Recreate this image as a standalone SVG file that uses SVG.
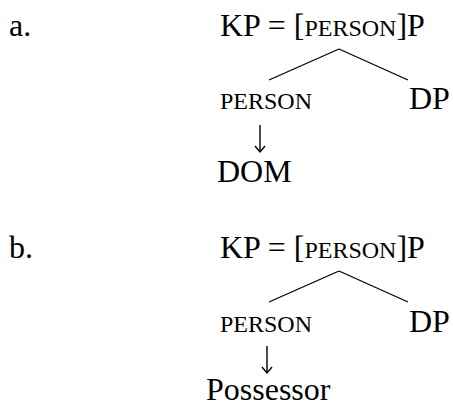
<svg xmlns="http://www.w3.org/2000/svg" width="453" height="407" viewBox="0 0 453 407" font-family="Liberation Serif">
<style>
text{font-size:32px;fill:#000}
.sc{font-size:24px}
.edge{stroke:#000;stroke-width:1.3;fill:none}
.arr{stroke:#000;stroke-width:1.4;fill:none}
</style>
<rect width="453" height="407" fill="#fff"/>
<g id="label-a"><text x="9" y="36" font-family="Liberation Serif">a.</text></g>
<g id="label-b"><text x="9" y="258" font-family="Liberation Serif">b.</text></g>
<g id="a-root"><text x="220" y="36" font-family="Liberation Serif">KP = [<tspan class="sc">PERSON</tspan>]P</text></g>
<g id="a-person"><text class="sc" x="220" y="109" font-family="Liberation Serif">PERSON</text></g>
<g id="a-dp"><text x="409" y="109" font-family="Liberation Serif">DP</text></g>
<g id="a-dom"><text x="217" y="182" font-family="Liberation Serif">DOM</text></g>
<g id="b-root"><text x="220" y="258" font-family="Liberation Serif">KP = [<tspan class="sc">PERSON</tspan>]P</text></g>
<g id="b-person"><text class="sc" x="220" y="332" font-family="Liberation Serif">PERSON</text></g>
<g id="b-dp"><text x="409" y="332" font-family="Liberation Serif">DP</text></g>
<g id="b-possessor"><text x="206" y="400" font-family="Liberation Serif">Possessor</text></g>
<g id="connectors">
<line class="edge" x1="339" y1="49" x2="269" y2="80"/>
<line class="edge" x1="339" y1="49" x2="408" y2="80"/>
<line class="edge" x1="339" y1="271" x2="269" y2="302"/>
<line class="edge" x1="339" y1="271" x2="408" y2="302"/>
<line class="arr" x1="260" y1="125" x2="260" y2="152"/>
<polyline class="arr" points="255,146 260,152 265,146"/>
<line class="arr" x1="267" y1="346" x2="267" y2="373"/>
<polyline class="arr" points="262,367 267,373 272,367"/>
</g>
</svg>
